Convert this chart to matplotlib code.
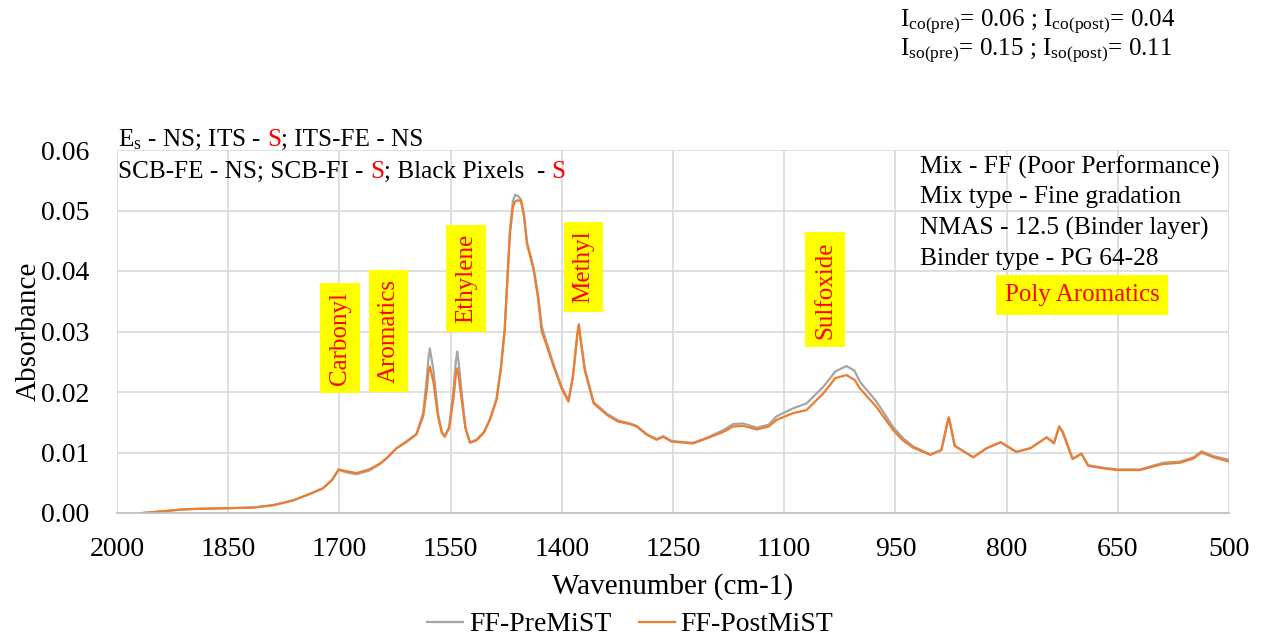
import matplotlib
matplotlib.use("Agg")
from matplotlib import pyplot as plt
import numpy as np

# FTIR spectra, absorbance vs wavenumber
wavenumber = [1965, 1928, 1911, 1888, 1850, 1816, 1789, 1762, 1735, 1722,
              1710, 1701, 1690, 1677, 1660, 1645, 1635, 1623, 1610, 1596,
              1587, 1582, 1580, 1578, 1576, 1573, 1567, 1562, 1558, 1552,
              1546, 1543, 1541, 1539, 1536, 1530, 1524, 1515, 1505, 1497,
              1488, 1482, 1477, 1470, 1466, 1463, 1459, 1455, 1451, 1447,
              1438, 1432, 1427, 1420, 1411, 1400, 1391, 1385, 1379, 1377,
              1375, 1369, 1357, 1339, 1324, 1308, 1299, 1285, 1272, 1263,
              1252, 1223, 1205, 1182, 1169, 1155, 1137, 1121, 1110, 1088,
              1070, 1047, 1031, 1016, 1005, 998, 976, 953, 940, 926,
              903, 888, 880, 878, 876, 870, 845, 827, 808, 787,
              768, 746, 736, 729, 724, 711, 699, 690, 670, 652,
              620, 589, 566, 548, 537, 521, 500]

pre_mist = [0.0000, 0.0004, 0.0006, 0.0007, 0.0008, 0.0009, 0.0013, 0.0021, 0.0034, 0.0041,
            0.0054, 0.0071, 0.0067, 0.0064, 0.0070, 0.0081, 0.0092, 0.0107, 0.0118, 0.0131,
            0.0165, 0.0225, 0.0255, 0.0272, 0.0257, 0.0235, 0.0165, 0.0134, 0.0127, 0.0142,
            0.0205, 0.0250, 0.0267, 0.0248, 0.0210, 0.0142, 0.0117, 0.0121, 0.0134, 0.0155,
            0.0189, 0.0243, 0.0306, 0.0468, 0.0515, 0.0526, 0.0524, 0.0518, 0.0494, 0.0448,
            0.0405, 0.0360, 0.0308, 0.0280, 0.0245, 0.0208, 0.0186, 0.0226, 0.0296, 0.0312,
            0.0291, 0.0238, 0.0183, 0.0164, 0.0153, 0.0148, 0.0144, 0.0130, 0.0122, 0.0127,
            0.0119, 0.0116, 0.0124, 0.0137, 0.0147, 0.0148, 0.0141, 0.0146, 0.0160, 0.0173,
            0.0181, 0.0209, 0.0234, 0.0243, 0.0235, 0.0217, 0.0185, 0.0142, 0.0124, 0.0110,
            0.0097, 0.0104, 0.0148, 0.0158, 0.0147, 0.0111, 0.0092, 0.0107, 0.0117, 0.0101,
            0.0107, 0.0125, 0.0117, 0.0143, 0.0134, 0.0090, 0.0098, 0.0079, 0.0075, 0.0072,
            0.0072, 0.0083, 0.0085, 0.0092, 0.0102, 0.0094, 0.0088]

post_mist = [0.0000, 0.0004, 0.0006, 0.0007, 0.0008, 0.0009, 0.0013, 0.0021, 0.0034, 0.0041,
             0.0055, 0.0072, 0.0069, 0.0066, 0.0072, 0.0082, 0.0092, 0.0107, 0.0117, 0.0130,
             0.0160, 0.0205, 0.0232, 0.0242, 0.0232, 0.0215, 0.0160, 0.0133, 0.0126, 0.0140,
             0.0190, 0.0228, 0.0239, 0.0225, 0.0195, 0.0140, 0.0116, 0.0120, 0.0133, 0.0154,
             0.0187, 0.0240, 0.0302, 0.0460, 0.0505, 0.0515, 0.0517, 0.0515, 0.0490, 0.0445,
             0.0402, 0.0355, 0.0300, 0.0275, 0.0242, 0.0205, 0.0184, 0.0225, 0.0295, 0.0311,
             0.0290, 0.0236, 0.0181, 0.0162, 0.0151, 0.0147, 0.0143, 0.0129, 0.0121, 0.0126,
             0.0118, 0.0115, 0.0123, 0.0134, 0.0143, 0.0144, 0.0138, 0.0143, 0.0154, 0.0165,
             0.0170, 0.0198, 0.0223, 0.0228, 0.0220, 0.0206, 0.0176, 0.0137, 0.0120, 0.0108,
             0.0096, 0.0104, 0.0148, 0.0158, 0.0147, 0.0111, 0.0092, 0.0107, 0.0117, 0.0101,
             0.0107, 0.0125, 0.0115, 0.0143, 0.0132, 0.0089, 0.0098, 0.0078, 0.0074, 0.0071,
             0.0071, 0.0081, 0.0083, 0.0090, 0.0100, 0.0092, 0.0085]

# functional group labels: (text, wavenumber, absorbance, rotation)
groups = [("Carbonyl", 1699, 0.0289, 90),
          ("Aromatics", 1634, 0.0301, 90),
          ("Ethylene", 1529, 0.0388, 90),
          ("Methyl", 1371, 0.0407, 90),
          ("Sulfoxide", 1045, 0.0369, 90),
          ("Poly Aromatics", 698, 0.0360, 0)]

mix_info = ["Mix - FF (Poor Performance)",
            "Mix type - Fine gradation",
            "NMAS - 12.5 (Binder layer)",
            "Binder type - PG 64-28"]

GRAY = "#A5A5A5"
ORANGE = "#ED7D31"
RED = "#FF0000"

plt.rcParams["font.family"] = ["Liberation Serif", "DejaVu Serif"]
plt.rcParams["mathtext.fontset"] = "custom"
plt.rcParams["mathtext.rm"] = "Liberation Serif"

fig = plt.figure(figsize=(12.68, 6.4), dpi=100)
ax = fig.add_axes([117 / 1268, 1 - 513 / 640, 1112 / 1268, 363 / 640])

ax.plot(wavenumber, pre_mist, color=GRAY, lw=1.6, label="FF-PreMiST")
ax.plot(wavenumber, post_mist, color=ORANGE, lw=1.6, label="FF-PostMiST")

ax.set_xlim(2000, 500)
ax.set_ylim(0, 0.06)
ax.set_xticks(np.arange(2000, 499, -150))
ax.set_yticks(np.arange(0, 0.061, 0.01))
ax.yaxis.set_major_formatter(matplotlib.ticker.FormatStrFormatter("%.2f"))
ax.grid(True, color="#D9D9D9", lw=1.2)
ax.set_axisbelow(True)
for side in ("top", "left", "right"):
    ax.spines[side].set_visible(False)
ax.spines["bottom"].set_color("#BFBFBF")
ax.spines["bottom"].set_linewidth(1.2)
ax.tick_params(axis="both", length=0, labelsize=20, colors="#000000")
ax.tick_params(axis="x", pad=17)
ax.tick_params(axis="y", pad=20)

ax.set_xlabel("Wavenumber (cm-1)", fontsize=21)
ax.set_ylabel("Absorbance", fontsize=21)
ax.xaxis.set_label_coords(0.5, -0.165)
ax.yaxis.set_label_coords(-0.068, 0.5)

for name, wn, val, rot in groups:
    ax.text(wn, val, name, rotation=rot, ha="center", va="center",
            fontsize=18, color=RED,
            bbox=dict(boxstyle="square,pad=0.35", fc="#FFFF00", ec="none"))

for i, line in enumerate(mix_info):
    ax.text(917, 0.0572 - i * 0.00505, line, ha="left", va="center", fontsize=18.3)

renderer = fig.canvas.get_renderer()


def text_width(s, size):
    t = fig.text(0, 0, s, fontsize=size)
    w = t.get_window_extent(renderer).width
    t.remove()
    return w


def colored_line(x0, y0, parts, size):
    """Draw a line of text in pieces; x0, y0 in figure pixels (baseline)."""
    done = ""
    for seg, color in parts:
        if done:
            first = seg[0]
            x = x0 + text_width(done + first, size) - text_width(first, size)
        else:
            x = x0
        fig.text(x / 1268, y0 / 640, seg, color=color, fontsize=size, va="baseline")
        done += seg


colored_line(118, 640 - 146, [(r"$\mathregular{E_s}$ - NS; ITS - ", "black"),
                              ("S", RED), ("; ITS-FE - NS", "black")], 18.2)
colored_line(118, 640 - 178, [("SCB-FE - NS; SCB-FI - ", "black"), ("S", RED),
                              ("; Black Pixels  - ", "black"), ("S", RED)], 18.2)

fig.text(900 / 1268, 1 - 26 / 640,
         r"$\mathregular{I_{co(pre)}}$= 0.06 ; $\mathregular{I_{co(post)}}$= 0.04",
         fontsize=18, va="baseline")
fig.text(900 / 1268, 1 - 55 / 640,
         r"$\mathregular{I_{so(pre)}}$= 0.15 ; $\mathregular{I_{so(post)}}$= 0.11",
         fontsize=18, va="baseline")

fig.legend(loc="center", bbox_to_anchor=(0.497, 0.024), ncol=2, frameon=False,
           fontsize=20, handlelength=1.3, handletextpad=0.2, columnspacing=1.0)

fig.savefig("out.png", dpi=100)
